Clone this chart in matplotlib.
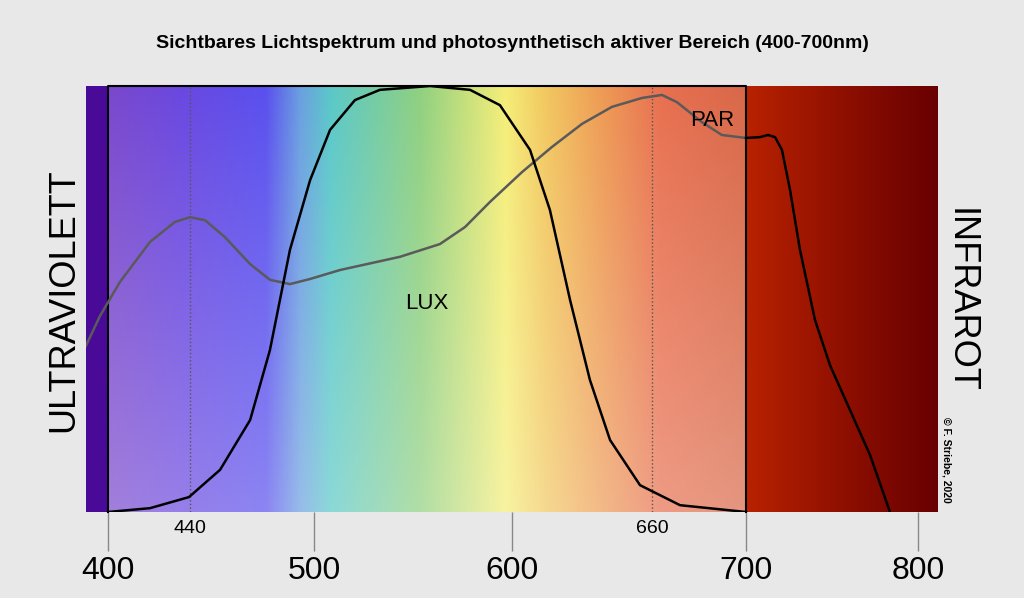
import numpy as np
import matplotlib.pyplot as plt
from matplotlib.colors import LinearSegmentedColormap

plt.rcParams["font.family"] = ["Liberation Sans", "DejaVu Sans"]

# -----------------------------
# Data (wavelength nm, relative height 0..1)
# -----------------------------
TICKS_MAJOR = [400, 500, 600, 700, 800]
TICKS_MINOR = [440, 660]

LUX_NM = [400, 420.4, 439.3, 454.4, 469, 478.6, 488.3, 498.1, 508.1, 520.7, 533.3, 558.6,
          578.8, 593.9, 607.7, 616.2, 624.8, 633.3, 641.9, 654.7, 671.8, 700]
LUX_Y = [0, .009, .035, .099, .216, .38, .615, .779, .897, .967, .991, 1,
         .991, .955, .85, .709, .498, .31, .169, .063, .016, 0]

PAR_NM = [389.3, 396.1, 405.8, 420.4, 432.5, 439.8, 447.1, 456.8, 469, 478.6, 488.3, 498.1,
          513.1, 543.4, 563.6, 576.3, 588.9, 604.3, 617.1, 629.9, 642.7, 655.6, 664.1,
          670.5, 681.2, 689.7, 700]
PAR_Y = [.39, .46, .54, .634, .681, .692, .685, .645, .582, .545, .535, .547,
         .568, .599, .629, .669, .728, .798, .857, .911, .951, .972, .979,
         .962, .915, .885, .878]

IR_NM = [700, 708.1, 712.8, 716.9, 720.9, 725.6, 731.4, 740.1, 748.8, 760.5, 772.1, 783.7]
IR_Y = [.878, .88, .885, .88, .85, .756, .615, .451, .345, .239, .134, 0]

# piecewise wavelength -> pixel mapping of the original drawing
MAP_NM = [370, 400, 500, 600, 700, 800, 840]
MAP_PX = [46, 108, 314, 512, 746, 918, 987]
X0, X1 = 86, 938


def fwd(x):
    return np.interp(x, MAP_NM, MAP_PX)


def inv(p):
    return np.interp(p, MAP_PX, MAP_NM)


fig = plt.figure(figsize=(10.24, 5.98), dpi=100, facecolor="#e8e8e8")
ax = fig.add_axes([X0 / 1024, 86 / 598, (X1 - X0) / 1024, 426 / 598])
ax.set_xscale("function", functions=(fwd, inv))
ax.set_xlim(inv(X0), inv(X1))
ax.set_ylim(0, 1)

# background spectrum (pixel based gradient)
px = np.arange(X0, X1)
stops = [
    (86, "#4a0a98"), (107, "#4a0a98"), (108, "#7a48cc"), (180, "#6a48e0"), (265, "#5a50ee"),
    (300, "#6aa0e0"), (330, "#5ac8c8"), (420, "#90d080"), (505, "#f5ee78"), (545, "#f2c860"),
    (600, "#ee9c55"), (660, "#e87050"), (745, "#d86848"), (746, "#b82200"), (840, "#901000"),
    (937, "#680000"),
]
cmap = LinearSegmentedColormap.from_list(
    "spec", [((p - 86) / (937 - 86), c) for p, c in stops], N=1024)
rgb = cmap((px - 86) / (937 - 86))[:, :3]
img = np.tile(rgb, (200, 1, 1))
# lighter toward the bottom inside the visible band
fade = np.linspace(0, 0.3, 200)[:, None, None]
vis = ((px >= 108) & (px < 746))[None, :, None]
img = np.where(vis, img * (1 - fade) + fade, img)
ax.imshow(img, extent=[0, 1, 0, 1], transform=ax.transAxes, aspect="auto", origin="upper", zorder=0)

# frame around the visible range
ax.plot([400, 400, 700, 700], [0, 1, 1, 0], color="black", lw=1.5, zorder=3, clip_on=False)
for t in TICKS_MINOR:
    ax.axvline(t, color="#555555", lw=1, ls=":", zorder=2)

ax.plot(PAR_NM, PAR_Y, color="#5a5a5a", lw=1.8, zorder=4)
ax.plot(LUX_NM, LUX_Y, color="black", lw=1.8, zorder=5)
ax.plot(IR_NM, IR_Y, color="black", lw=1.8, zorder=5)

ax.text(inv(427), 0.49, "LUX", fontsize=16, ha="center", va="center", zorder=6)
ax.text(inv(712), 0.92, "PAR", fontsize=16, ha="center", va="center", zorder=6)

for s in ax.spines.values():
    s.set_visible(False)
ax.set_yticks([])
ax.set_xticks(TICKS_MAJOR)
ax.set_xticklabels([str(t) for t in TICKS_MAJOR], fontsize=23)
ax.tick_params(axis="x", length=28, width=1, color="#888888", pad=4)
ax.set_xticks(TICKS_MINOR, minor=True)
ax.set_xticklabels([str(t) for t in TICKS_MINOR], minor=True, fontsize=14)
ax.tick_params(axis="x", which="minor", length=0, pad=6)

fig.text(0.5, 1 - 44 / 598, "Sichtbares Lichtspektrum und photosynthetisch aktiver Bereich (400-700nm)",
         ha="center", va="center", fontsize=14, fontweight="bold")
fig.text(64 / 1024, 1 - 300 / 598, "ULTRAVIOLETT", rotation=90, ha="center", va="center", fontsize=26)
fig.text(960 / 1024, 1 - 300 / 598, "INFRAROT", rotation=270, ha="center", va="center", fontsize=26)
fig.text(947 / 1024, 1 - 460 / 598, "© F. Striebe, 2020", rotation=270, ha="center", va="center",
         fontsize=7.5, fontweight="bold")

fig.savefig("out.png", dpi=100, facecolor=fig.get_facecolor())
